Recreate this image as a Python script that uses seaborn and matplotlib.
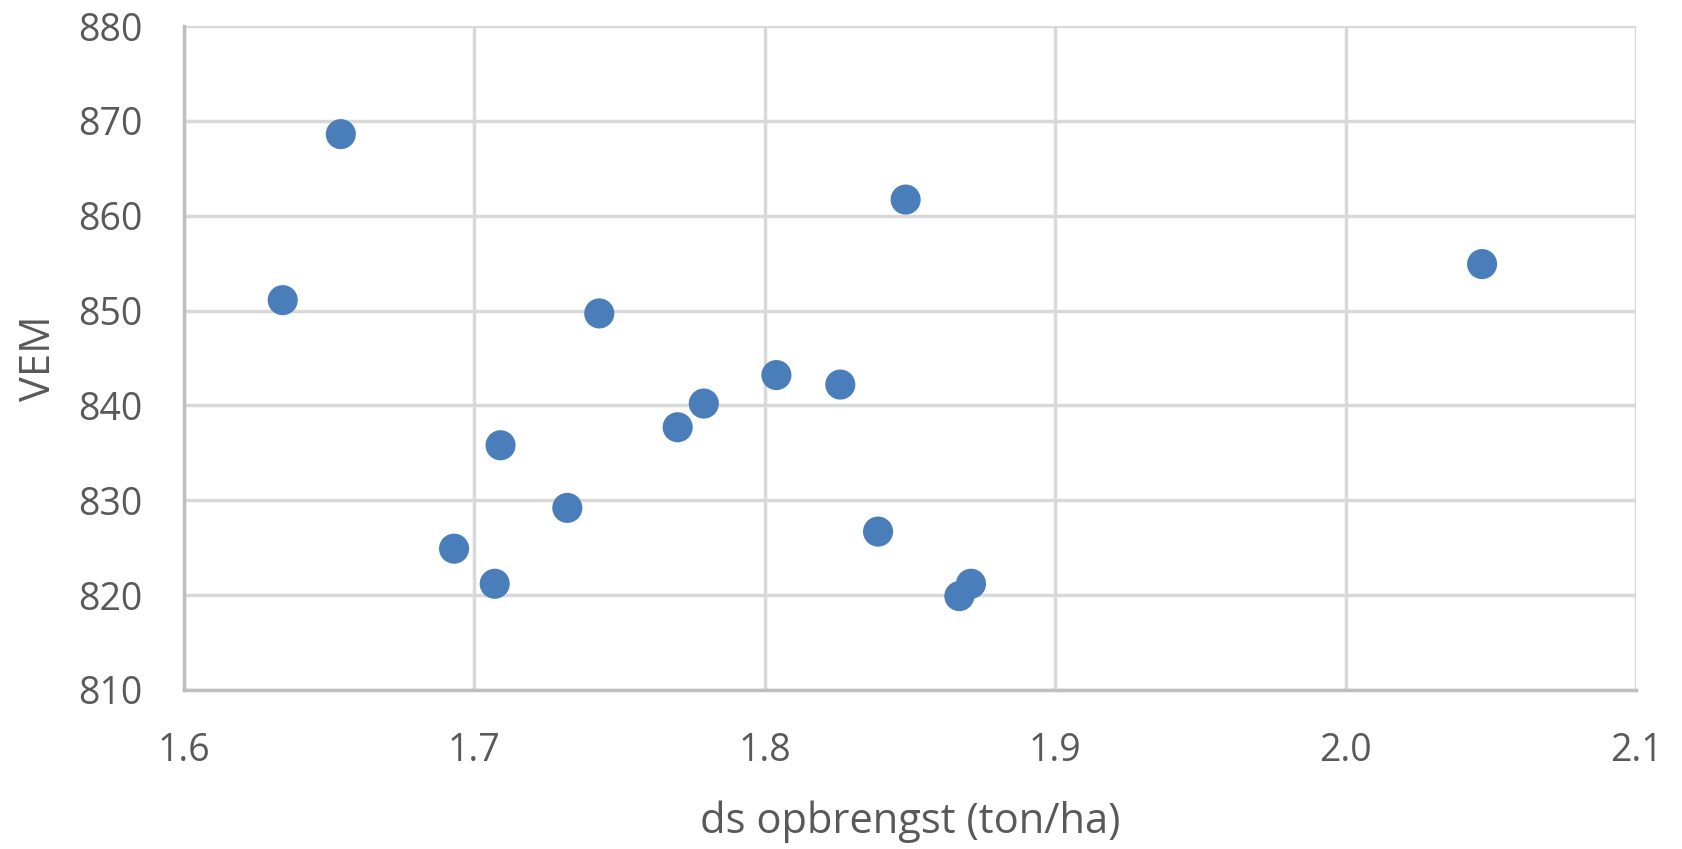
import matplotlib
matplotlib.use("Agg")
import matplotlib.pyplot as plt
import seaborn as sns
import pandas as pd

# ds opbrengst (ton/ha) vs VEM
opbrengst = [1.654, 1.634, 1.8485, 2.047, 1.743, 1.804, 1.826, 1.779, 1.770,
             1.709, 1.732, 1.839, 1.693, 1.707, 1.871, 1.867]
vem = [868.6, 851.1, 861.7, 854.9, 849.7, 843.2, 842.2, 840.2, 837.7,
       835.8, 829.2, 826.7, 824.9, 821.2, 821.2, 819.9]

x_ticks = [1.6, 1.7, 1.8, 1.9, 2.0, 2.1]
y_ticks = [810, 820, 830, 840, 850, 860, 870, 880]

df = pd.DataFrame({"x": opbrengst, "y": vem})

sns.set_theme(style="white")
plt.rcParams["font.family"] = ["Open Sans", "DejaVu Sans"]
text_col = "#595959"

fig = plt.figure(figsize=(16.83, 8.49), dpi=100)
ax = fig.add_axes([184 / 1683, 1 - 690 / 849, (1636 - 184) / 1683, (690 - 26) / 849])

sns.scatterplot(data=df, x="x", y="y", ax=ax, s=470, color="#4a7ebb",
                edgecolor="none", zorder=3)

ax.set_xlim(1.6, 2.1)
ax.set_ylim(810, 880)
ax.set_xticks(x_ticks)
ax.set_xticklabels([f"{t:.1f}" for t in x_ticks])
ax.set_yticks(y_ticks)
ax.set_yticklabels([str(t) for t in y_ticks])
ax.grid(True, color="#d9d9d9", linewidth=2.5, zorder=0)
ax.set_axisbelow(True)
for side in ["top", "right"]:
    ax.spines[side].set_visible(False)
for side in ["left", "bottom"]:
    ax.spines[side].set_color("#bfbfbf")
    ax.spines[side].set_linewidth(2.5)

ax.tick_params(axis="both", length=0, labelsize=27, colors=text_col)
ax.tick_params(axis="x", pad=30)
ax.tick_params(axis="y", pad=30)

ax.set_xlabel("ds opbrengst (ton/ha)", fontsize=30, color=text_col, labelpad=22)
ax.set_ylabel("VEM", fontsize=30, color=text_col, labelpad=13)

fig.savefig("out.png", dpi=100)
